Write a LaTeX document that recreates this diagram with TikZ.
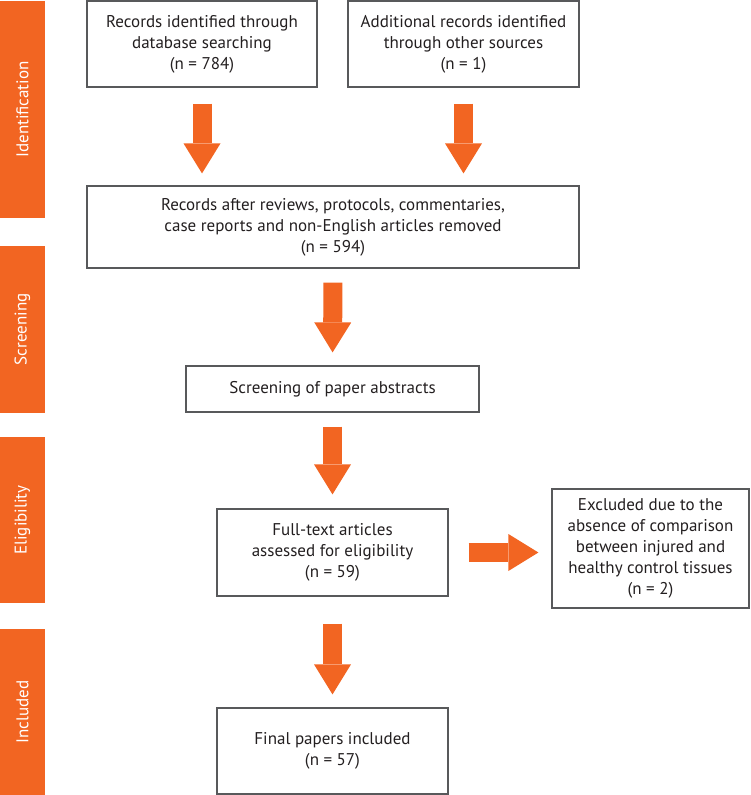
\documentclass[tikz,border=0pt]{standalone}
\usepackage{fontspec}
\setmainfont{PT Sans}
\usepackage{xcolor}
\usetikzlibrary{arrows.meta}
\definecolor{accent}{HTML}{F26522}
\definecolor{ink}{HTML}{231F20}
\definecolor{frame}{HTML}{58595B}
\tikzset{
  box/.style={draw=frame, line width=1.2pt, text=ink, align=center, inner sep=0pt,
    font=\fontsize{17}{21}\selectfont},
  bar/.style={fill=accent, text=white, rotate=90, inner sep=0pt, minimum height=45pt,
    font=\fontsize{17}{20}\selectfont},
  fat/.style={draw=accent, line width=19pt,
    -{Triangle[width=37pt 0, length=30pt 0, line width=0pt]}},
}

\begin{document}
\begin{tikzpicture}[x=1pt, y=-1pt]
  \useasboundingbox (0,0) rectangle (750,795);
  % phase bars
  \node[bar, minimum width=217pt] (ident) at (22.5,109.5) {Identification};
  \node[bar, minimum width=167pt] (scr)   at (22.5,329.5) {Screening};
  \node[bar, minimum width=166pt] (elig)  at (22.5,520)   {Eligibility};
  \node[bar, minimum width=166pt] (incl)  at (22.5,712)   {Included};
  % boxes
  \node[box, minimum width=230pt, minimum height=86pt] (db) at (202,44)
    {Records identified through\\database searching\\(n = 784)};
  \node[box, minimum width=231pt, minimum height=86pt] (other) at (463.5,44)
    {Additional records identified\\through other sources\\(n = 1)};
  \node[box, minimum width=492pt, minimum height=82pt] (removed) at (333,227)
    {Records after reviews, protocols, commentaries,\\case reports and non-English articles removed\\(n = 594)};
  \node[box, minimum width=293pt, minimum height=46pt] (abstracts) at (332.5,389)
    {Screening of paper abstracts};
  \node[box, minimum width=231pt, minimum height=87pt] (fulltext) at (332.5,552.5)
    {Full-text articles\\assessed for eligibility\\(n = 59)};
  \node[box, minimum width=197pt, minimum height=119pt] (excluded) at (650.5,548.5)
    {Excluded due to the\\absence of comparison\\between injured and\\healthy control tissues\\(n = 2)};
  \node[box, minimum width=231pt, minimum height=86pt] (final) at (332.5,751)
    {Final papers included\\(n = 57)};
  % arrows
  \draw[fat, shorten <=16pt, shorten >=12pt] (db.south) -- (db.south |- removed.north);
  \draw[fat, shorten <=16pt, shorten >=12pt] (other.south) -- (other.south |- removed.north);
  \draw[fat, shorten <=14pt, shorten >=13pt] (removed.south) -- (abstracts.north);
  \draw[fat, shorten <=14pt, shorten >=14pt] (abstracts.south) -- (fulltext.north);
  \draw[fat, shorten <=27pt, shorten >=13pt] (fulltext.south) -- (final.north);
  \draw[fat, shorten <=20pt, shorten >=13pt] (fulltext.east) -- (fulltext.east -| excluded.west);
\end{tikzpicture}
\end{document}
